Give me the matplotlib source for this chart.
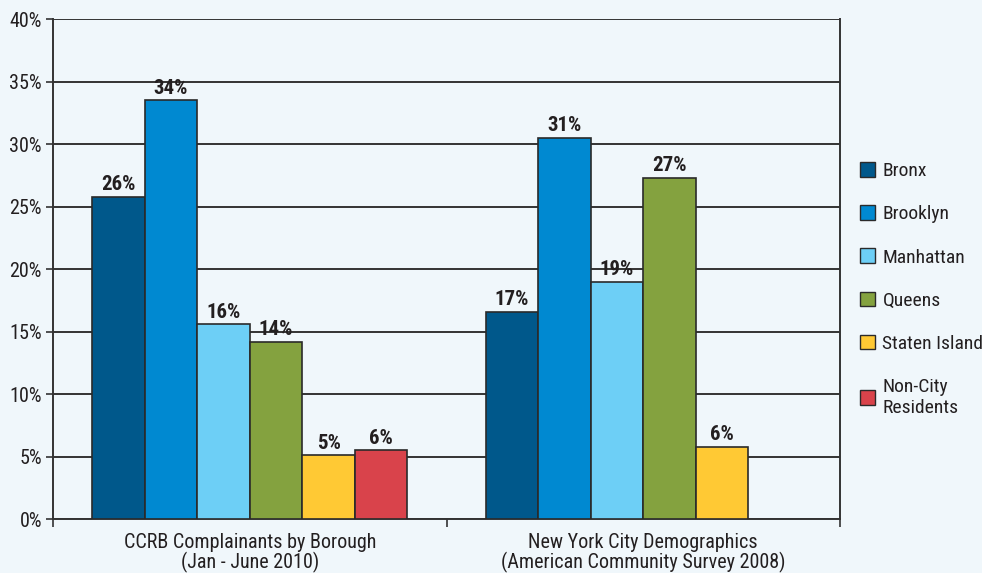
import numpy as np
import matplotlib
matplotlib.use("Agg")
import matplotlib.pyplot as plt
from matplotlib.patches import Patch

plt.rcParams['font.family'] = ['Roboto Condensed', 'Liberation Sans', 'DejaVu Sans']

# --- data ---
groups = ["CCRB Complainants by Borough\n(Jan - June 2010)",
          "New York City Demographics\n(American Community Survey 2008)"]
boroughs = ["Bronx", "Brooklyn", "Manhattan", "Queens", "Staten Island", "Non-City\nResidents"]
ccrb = [25.8, 33.5, 15.6, 14.2, 5.1, 5.5]
census = [16.6, 30.5, 19.0, 27.3, 5.8, np.nan]
ccrb_labels = ["26%", "34%", "16%", "14%", "5%", "6%"]
census_labels = ["17%", "31%", "19%", "27%", "6%", ""]
colors = ["#00588b", "#0089d1", "#6dcff6", "#84a23f", "#ffc934", "#d9434b"]
yticks = [0, 5, 10, 15, 20, 25, 30, 35, 40]

BG = "#f0f7fb"
INK = "#231f20"

fig = plt.figure(figsize=(9.82, 5.73), dpi=100, facecolor=BG)
ax = fig.add_axes([0.054, 0.0942, 0.8014, 0.8726], facecolor=BG)

x = np.arange(len(groups))
w = 0.1334
for i, name in enumerate(boroughs):
    vals = [ccrb[i], census[i]]
    labs = [ccrb_labels[i], census_labels[i]]
    pos = x + (i - 2.5) * w
    bars = ax.bar(pos, vals, width=w, color=colors[i], edgecolor="#2a2a2a",
                  linewidth=1.2, zorder=3)
    for b, v, lab in zip(bars, vals, labs):
        if np.isnan(v) or not lab:
            continue
        ax.text(b.get_x() + b.get_width() / 2, v + 0.2, lab, ha="center", va="bottom",
                fontsize=15, fontweight="bold", color=INK, zorder=4)

ax.set_xlim(-0.5, 1.5)
ax.set_ylim(0, 40)
ax.set_yticks(yticks)
ax.set_yticklabels([f"{t}%" for t in yticks], fontsize=14.5, color=INK)
ax.yaxis.grid(True, color="#333333", linewidth=1.4, zorder=1)

ax.set_xticks([-0.5, 0.5, 1.5], minor=False)
ax.set_xticklabels([])
ax.set_xticks(x, minor=True)
ax.set_xticklabels(groups, minor=True, fontsize=14.5, color=INK, linespacing=1.0)
ax.tick_params(axis="x", which="minor", length=0, pad=10)
ax.tick_params(axis="x", which="major", length=6, width=1.2, color="#333333", direction="out")
ax.tick_params(axis="y", length=5, width=1.2, color="#333333", pad=3)

for s in ["left", "right", "bottom"]:
    ax.spines[s].set_color("#333333")
    ax.spines[s].set_linewidth(1.4)
ax.spines["top"].set_visible(False)

handles = [Patch(facecolor=c, edgecolor="#2a2a2a", linewidth=1.0) for c in colors]
leg = fig.legend(handles, boroughs, loc="upper left", bbox_to_anchor=(0.876, 0.717),
                 frameon=False, fontsize=14, handlelength=0.78, handleheight=0.78,
                 handletextpad=0.36, labelspacing=1.29, labelcolor=INK,
                 borderaxespad=0, borderpad=0)

fig.savefig("out.png", dpi=100, facecolor=BG)
